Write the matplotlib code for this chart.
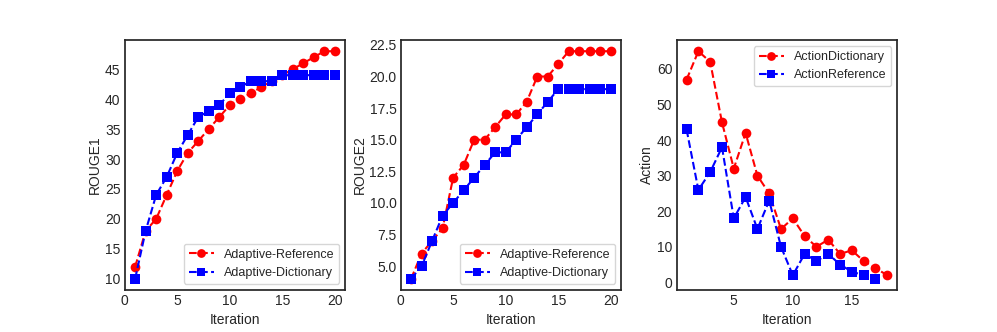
import matplotlib
matplotlib.use("Agg")
import matplotlib.pyplot as plt
import seaborn as sns

sns.set_style("white")
plt.rcParams['font.family'] = ['Liberation Sans', 'DejaVu Sans']

iters = list(range(1, 21))
r1_ref = [12, 18, 20, 24, 28, 31, 33, 35, 37, 39, 40, 41, 42, 43, 44, 45, 46, 47, 48, 48]
r1_dict = [10, 18, 24, 27, 31, 34, 37, 38, 39, 41, 42, 43, 43, 43, 44, 44, 44, 44, 44, 44]
r2_ref = [4, 6, 7, 8, 12, 13, 15, 15, 16, 17, 17, 18, 20, 20, 21, 22, 22, 22, 22, 22]
r2_dict = [4, 5, 7, 9, 10, 11, 12, 13, 14, 14, 15, 16, 17, 18, 19, 19, 19, 19, 19, 19]
act_iters_dict = list(range(1, 19))
act_dict = [57, 65, 62, 45, 32, 42, 30, 25, 15, 18, 13, 10, 12, 8, 9, 6, 4, 2]
act_iters_ref = list(range(1, 18))
act_ref = [43, 26, 31, 38, 18, 24, 15, 23, 10, 2, 8, 6, 8, 5, 3, 2, 1]

fig, axes = plt.subplots(1, 3, figsize=(9.97, 3.32), dpi=100)
fig.subplots_adjust(left=0.125, right=0.9, bottom=0.126, top=0.88, wspace=0.25)

fs = 10
lfs = 9
ms = 7
lw = 1.5
kw = dict(ms=ms, lw=lw, mew=0)

ax = axes[0]
ax.plot(iters, r1_ref, 'r--o', label='Adaptive-Reference', **kw)
ax.plot(iters, r1_dict, 'b--s', label='Adaptive-Dictionary', **kw)
ax.set_xlim(0, 21)
ax.set_xticks([0, 5, 10, 15, 20])
ax.set_xlabel('Iteration', fontsize=fs, labelpad=3)
ax.set_ylabel('ROUGE1', fontsize=fs, labelpad=2)
ax.legend(loc='lower right', fontsize=lfs, markerscale=0.9)

ax = axes[1]
ax.plot(iters, r2_ref, 'r--o', label='Adaptive-Reference', **kw)
ax.plot(iters, r2_dict, 'b--s', label='Adaptive-Dictionary', **kw)
ax.set_xlim(0, 21)
ax.set_xticks([0, 5, 10, 15, 20])
ax.set_xlabel('Iteration', fontsize=fs, labelpad=3)
ax.set_ylabel('ROUGE2', fontsize=fs, labelpad=2)
ax.legend(loc='lower right', fontsize=lfs, markerscale=0.9)

ax = axes[2]
ax.plot(act_iters_dict, act_dict, 'r--o', label='ActionDictionary', **kw)
ax.plot(act_iters_ref, act_ref, 'b--s', label='ActionReference', **kw)
ax.set_xticks([5, 10, 15])
ax.set_xlabel('Iteration', fontsize=fs, labelpad=3)
ax.set_ylabel('Action', fontsize=fs, labelpad=2)
ax.legend(loc='upper right', fontsize=lfs, markerscale=0.9)

for ax in axes:
    ax.tick_params(labelsize=fs, length=0, pad=3)
    for s in ax.spines.values():
        s.set_color('0.15')
        s.set_linewidth(1.25)

fig.savefig('out.png', dpi=100)
